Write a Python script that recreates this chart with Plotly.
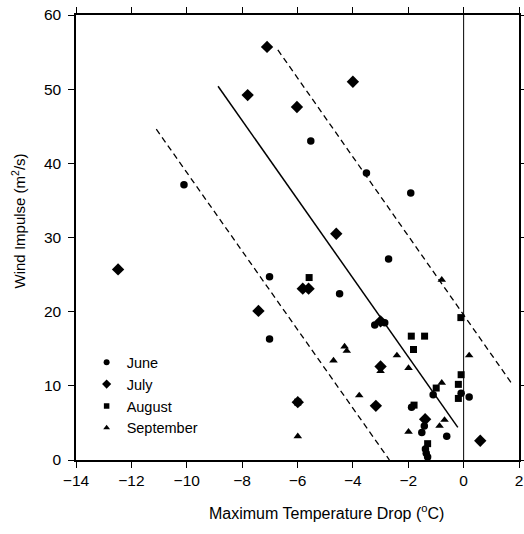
import plotly.graph_objects as go

# ---- data ----
june_x = [-10.1, -5.52, -3.51, -1.91, -2.71, -4.48, -7.01, -7.01, -3.21, -2.85,
          -1.10, -0.09, 0.20, -1.88, -1.42, -1.51, -0.61, -1.38, -1.35, -1.30]
june_y = [37.1, 43.0, 38.7, 36.0, 27.1, 22.4, 24.7, 16.3, 18.2, 18.5,
          8.8, 9.0, 8.5, 7.1, 4.6, 3.7, 3.2, 1.5, 0.9, 0.4]

july_x = [-7.10, -7.80, -4.00, -6.02, -4.60, -12.48, -7.41, -5.81, -5.60, -3.00,
          -3.00, -3.17, -1.39, 0.60, -5.99]
july_y = [55.7, 49.2, 51.0, 47.6, 30.5, 25.7, 20.1, 23.1, 23.1, 18.7,
          12.6, 7.3, 5.5, 2.6, 7.8]

aug_x = [-5.58, -0.10, -1.89, -1.41, -1.81, -0.09, -0.19, -0.99, -0.19, -1.79, -1.30, -5.99]
aug_y = [24.6, 19.2, 16.7, 16.7, 14.9, 11.5, 10.2, 9.7, 8.3, 7.4, 2.2, 7.8]

sep_x = [-0.79, -2.41, 0.20, -4.30, -4.22, -4.70, -3.00, -1.99, -0.79, -3.77,
         -5.99, -0.69, -0.87, -1.99]
sep_y = [24.3, 14.1, 14.1, 15.3, 14.7, 13.4, 12.0, 12.4, 10.4, 8.7,
         3.2, 5.4, 4.6, 3.8]

fit_x = [-8.87, -0.21]
fit_y = [50.4, 4.4]
upper_x = [-6.71, 1.74]
upper_y = [55.3, 10.3]
lower_x = [-11.1, -2.68]
lower_y = [44.6, 0.0]

zero_line_x = [0, 0]
zero_line_y = [0, 60]

x_ticks = [-14, -12, -10, -8, -6, -4, -2, 0, 2]
y_ticks = [0, 10, 20, 30, 40, 50, 60]

months = ["June", "July", "August", "September"]

# ---- figure ----
fig = go.Figure()
FONT = "Liberation Sans, Arial, sans-serif"

fig.add_trace(go.Scatter(x=zero_line_x, y=zero_line_y, mode="lines",
                         line=dict(color="black", width=1), showlegend=False, hoverinfo="skip"))
fig.add_trace(go.Scatter(x=fit_x, y=fit_y, mode="lines",
                         line=dict(color="black", width=1.5), showlegend=False))
for lx, ly in [(upper_x, upper_y), (lower_x, lower_y)]:
    fig.add_trace(go.Scatter(x=lx, y=ly, mode="lines",
                             line=dict(color="black", width=1.3, dash="6px,4px"),
                             showlegend=False))

series = [
    (june_x, june_y, "circle", 7.5),
    (july_x, july_y, "diamond", 9.5),
    (aug_x, aug_y, "square", 7),
    (sep_x, sep_y, "triangle-up", 7.5),
]
legend_sizes = [6, 7, 5.5, 6]
for (sx, sy, sym, sz), name, lsz in zip(series, months, legend_sizes):
    fig.add_trace(go.Scatter(x=sx, y=sy, mode="markers", name=name,
                             marker=dict(symbol=sym, size=sz, color="black"),
                             showlegend=False))
    fig.add_trace(go.Scatter(x=[None], y=[None], mode="markers", name=name,
                             marker=dict(symbol=sym, size=lsz, color="black"),
                             showlegend=True))

axis_common = dict(showline=True, linecolor="black", linewidth=1.5, mirror="ticks",
                   ticks="outside", ticklen=6, tickwidth=1, tickcolor="black",
                   showgrid=False, zeroline=False, automargin=False,
                   ticklabeloverflow="allow",
                   tickfont=dict(family=FONT, size=15.5, color="black"))

fig.update_xaxes(range=[-14, 2], tickvals=x_ticks, **axis_common)
fig.update_yaxes(range=[0, 60], tickvals=y_ticks, ticklabelstandoff=4, **axis_common)

W, H = 524, 534
plot_left, plot_right, plot_top, plot_bottom = 75.7, 518.7, 14.7, 460.0
L = plot_left
T = plot_top
R = W - plot_right
B = H - plot_bottom
pw = plot_right - plot_left
ph = plot_bottom - plot_top

fig.update_layout(
    width=W, height=H,
    margin=dict(l=L, r=R, t=T, b=B, pad=0, autoexpand=False),
    paper_bgcolor="white", plot_bgcolor="white",
    font=dict(family=FONT, size=16, color="black"),
    showlegend=True,
    legend=dict(x=0.024, y=0.2555, xanchor="left", yanchor="top",
                bgcolor="rgba(0,0,0,0)", font=dict(family=FONT, size=14.5),
                itemwidth=30, tracegroupgap=0),
    annotations=[
        dict(text="Maximum Temperature Drop (<sup>o</sup>C)",
             x=(326 - plot_left) / pw, y=(plot_bottom - 512) / ph,
             xref="paper", yref="paper", showarrow=False,
             xanchor="center", yanchor="middle",
             font=dict(family=FONT, size=16)),
        dict(text="Wind Impulse (m<sup>2</sup>/s)",
             x=(18 - plot_left) / pw, y=(plot_bottom - 221) / ph,
             xref="paper", yref="paper", showarrow=False, textangle=-90,
             xanchor="center", yanchor="middle",
             font=dict(family=FONT, size=15)),
    ],
)

fig.write_html("out.html",
               config={"displayModeBar": False},
               post_script="document.body.style.margin='0';document.body.style.overflow='hidden';")
